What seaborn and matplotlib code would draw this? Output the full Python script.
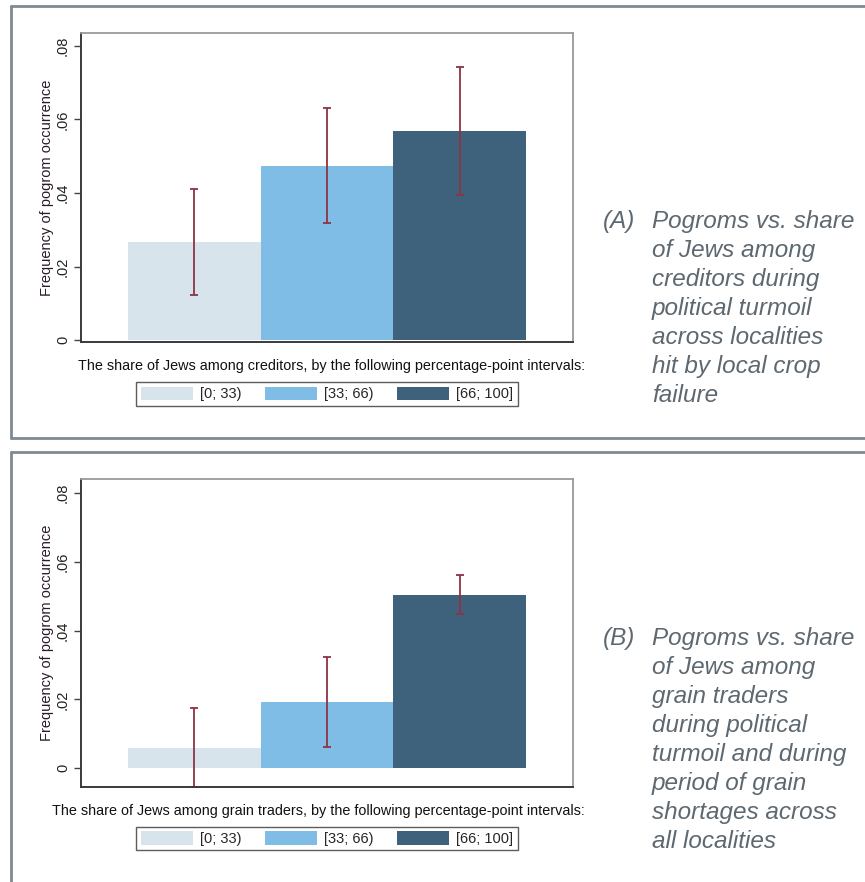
import matplotlib.pyplot as plt
import seaborn as sns
from matplotlib.lines import Line2D
from matplotlib.patches import Patch

# values
categories = ["[0; 33)", "[33; 66)", "[66; 100]"]
bar_colors = ["#d8e4ec", "#80bde6", "#3e617c"]

creditors_freq = [0.0266, 0.0473, 0.0569]
creditors_lo = [0.0124, 0.0318, 0.0394]
creditors_hi = [0.0412, 0.0631, 0.0743]

traders_freq = [0.0058, 0.0191, 0.0504]
traders_lo = [-0.0055, 0.0061, 0.0447]
traders_hi = [0.0174, 0.0322, 0.0563]

ytick_vals = [0, 0.02, 0.04, 0.06, 0.08]
ytick_labels = ["0", ".02", ".04", ".06", ".08"]

ylabel = "Frequency of pogrom occurrence"
xtitle_a = "The share of Jews among creditors, by the following percentage-point intervals:"
xtitle_b = "The share of Jews among grain traders, by the following percentage-point intervals:"

caption_a = ["Pogroms vs. share", "of Jews among", "creditors during", "political turmoil",
             "across localities", "hit by local crop", "failure"]
caption_b = ["Pogroms vs. share", "of Jews among", "grain traders", "during political",
             "turmoil and during", "period of grain", "shortages across", "all localities"]

sns.set_style("white")
plt.rcParams["font.family"] = ["Liberation Sans", "DejaVu Sans"]

W, H = 865, 882
fig = plt.figure(figsize=(W / 100, H / 100), dpi=100)


def px_axes(left, top, right, bottom):
    return fig.add_axes([left / W, 1 - bottom / H, (right - left) / W, (bottom - top) / H])


def draw_panel(ax, freq, lo, hi, xtitle, ylim, title_x):
    sns.barplot(x=categories, y=freq, hue=categories, palette=bar_colors, width=1.0,
                saturation=1, errorbar=None, legend=False, linewidth=0, ax=ax)
    err_low = [f - l for f, l in zip(freq, lo)]
    err_high = [h - f for f, h in zip(freq, hi)]
    ax.errorbar(range(len(categories)), freq, yerr=[err_low, err_high], fmt="none",
                ecolor="#8e3343", elinewidth=1.3, capsize=3, capthick=1.3, clip_on=False)
    ax.set_xlim(-0.854, 2.854)
    ax.set_ylim(*ylim)
    ax.set_yticks(ytick_vals)
    ax.set_yticklabels(ytick_labels, rotation=90, va="center", fontsize=10.5, color="#222222")
    ax.set_xticks([])
    ax.set_xlabel("")
    ax.set_ylabel(ylabel, fontsize=10.5, color="#2a1a2a", labelpad=1.5)
    ax.tick_params(axis="y", left=True, length=5, width=1, color="#444444", pad=3)
    for side in ["left", "bottom"]:
        ax.spines[side].set_color("#3a3a3a")
        ax.spines[side].set_linewidth(1.4)
    for side in ["top", "right"]:
        ax.spines[side].set_color("#9a9a9a")
        ax.spines[side].set_linewidth(1.3)
    ax.text(title_x, -0.078, xtitle, transform=ax.transAxes, ha="center", va="center",
            fontsize=10.4, color="#111111")
    handles = [Patch(facecolor=c, edgecolor="none", label=l) for c, l in zip(bar_colors, categories)]
    leg = ax.legend(handles=handles, ncol=3, loc="center", bbox_to_anchor=(0.5, -0.168),
                    frameon=True, fancybox=False, edgecolor="#333333", fontsize=10.5,
                    handlelength=3.6, handleheight=1.05, columnspacing=1.55,
                    handletextpad=0.5, borderpad=0.3, borderaxespad=0)
    leg.get_frame().set_linewidth(1.0)


ax_a = px_axes(81, 33, 573, 342)
draw_panel(ax_a, creditors_freq, creditors_lo, creditors_hi, xtitle_a, (-0.0005, 0.0835), 0.51)

ax_b = px_axes(81, 479, 573, 787)
draw_panel(ax_b, traders_freq, traders_lo, traders_hi, xtitle_b, (-0.0055, 0.0841), 0.483)

# panel frames (open on the right, as in the cropped page)
frame_kw = dict(color="#7e8a93", linewidth=2, transform=fig.transFigure)
fig.add_artist(Line2D([11 / W, 11 / W], [1 - 6 / H, 1 - 438 / H], **frame_kw))
fig.add_artist(Line2D([11 / W, 1], [1 - 6 / H, 1 - 6 / H], **frame_kw))
fig.add_artist(Line2D([11 / W, 1], [1 - 438 / H, 1 - 438 / H], **frame_kw))
fig.add_artist(Line2D([11 / W, 11 / W], [1 - 452 / H, 0], **frame_kw))
fig.add_artist(Line2D([11 / W, 1], [1 - 452 / H, 1 - 452 / H], **frame_kw))

# captions on the right
cap_kw = dict(fontsize=17.5, color="#5d6870", va="top", ha="left", linespacing=1.33,
              style="italic")
fig.text(603 / W, 1 - 210 / H, "(A)", **cap_kw)
fig.text(652 / W, 1 - 210 / H, "\n".join(caption_a), **cap_kw)
fig.text(603 / W, 1 - 627 / H, "(B)", **cap_kw)
fig.text(652 / W, 1 - 627 / H, "\n".join(caption_b), **cap_kw)

fig.savefig("out.png", dpi=100, facecolor="white")
